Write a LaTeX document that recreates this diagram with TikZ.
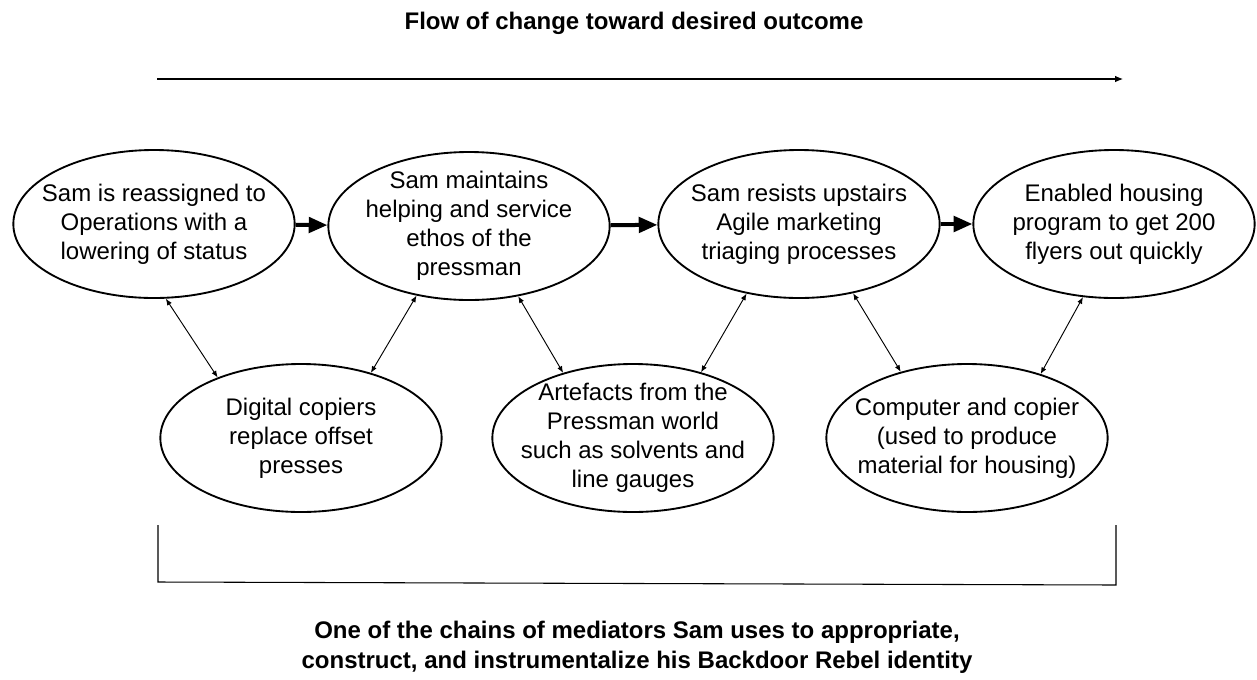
\documentclass[tikz,border=0pt]{standalone}
\usepackage{fontspec}
\setmainfont{Liberation Sans}
\usetikzlibrary{positioning}
\usetikzlibrary{arrows.meta}
\usetikzlibrary{shapes.geometric}
\colorlet{mediatorc}{black}

\begin{document}
\begin{tikzpicture}[x=0.75pt,y=-0.75pt,
  mediator/.style={ellipse,draw=mediatorc,line width=1.4pt,minimum width=211pt,minimum height=111pt,inner sep=0pt},
  mediatortext/.style={align=center,inner sep=0pt,font=\fontsize{18}{21.75}\selectfont},
  chainarrow/.style={line width=3pt,-{Triangle[length=14pt,width=11.5pt]}},
  linkarrow/.style={line width=0.7pt,{Latex[length=5pt,width=4pt]}-{Latex[length=5pt,width=4pt]}},
  caption/.style={align=center,font=\fontsize{18}{22.5}\selectfont\bfseries}]
\useasboundingbox (0,0) rectangle (1257,679);

\node[caption] (flowtitle) at (634,23) {Flow of change toward desired outcome};
\coordinate (flowstart) at (157,79);
\coordinate (flowend) at (1123,79);
\draw[line width=0.8pt,-{Latex[length=6pt,width=5pt]}] (flowstart) -- (flowend);

% chain of mediators
\node[mediator,label={[mediatortext]center:Sam is reassigned to\\Operations with a\\lowering of status}] (reassigned) at (154,224) {};
\node[mediator,label={[mediatortext]center:Sam maintains\\helping and service\\ethos of the\\pressman}] (ethos) at (469,226) {};
\node[mediator,label={[mediatortext]center:Sam resists upstairs\\Agile marketing\\triaging processes}] (resists) at (799,224) {};
\node[mediator,label={[mediatortext]center:Enabled housing\\program to get 200\\flyers out quickly}] (housing) at (1114,224) {};

\node[mediator,label={[mediatortext]center:Digital copiers\\replace offset\\presses}] (copiers) at (301,438) {};
\node[mediator,label={[mediatortext]center:Artefacts from the\\Pressman world\\such as solvents and\\line gauges}] (artefacts) at (633,438) {};
\node[mediator,label={[mediatortext]center:Computer and copier\\(used to produce\\material for housing)}] (computer) at (967,438) {};

\draw[chainarrow] (reassigned) -- (ethos);
\draw[chainarrow] (ethos) -- (resists);
\draw[chainarrow] (resists) -- (housing);

\draw[linkarrow] (reassigned.-81) -- (copiers.144);
\draw[linkarrow] (ethos.-127) -- (copiers.43);
\draw[linkarrow] (ethos.-55) -- (artefacts.137);
\draw[linkarrow] (resists.-127) -- (artefacts.44);
\draw[linkarrow] (resists.-52) -- (computer.135);
\draw[linkarrow] (housing.-113) -- (computer.41);

% bracket
\draw[line width=0.8pt] (158,525) -- (158,582) -- (1116,585) -- (1116,525);

\node[caption] (chaincaption) at (637,647) {One of the chains of mediators Sam uses to appropriate,\\construct, and instrumentalize his Backdoor Rebel identity};
\end{tikzpicture}
\end{document}
